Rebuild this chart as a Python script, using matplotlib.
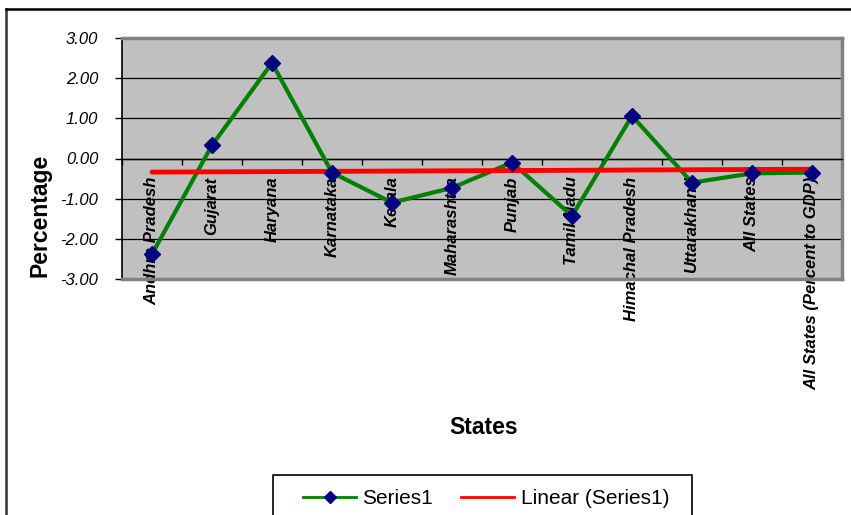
import numpy as np
import matplotlib.pyplot as plt
from matplotlib.lines import Line2D
from matplotlib.ticker import FixedLocator, NullFormatter

plt.rcParams['font.family'] = ['Liberation Sans', 'DejaVu Sans']

states = ["Andhra Pradesh", "Gujarat", "Haryana", "Karnataka", "Kerala",
          "Maharashtra", "Punjab", "Tamil Nadu", "Himachal Pradesh",
          "Uttarakhand", "All States", "All States (Percent to GDP)"]
values = [-2.38, 0.33, 2.38, -0.35, -1.10, -0.73, -0.10, -1.43, 1.06,
          -0.60, -0.37, -0.35]
yticks = [-3, -2, -1, 0, 1, 2, 3]

W, H = 851, 515
fig = plt.figure(figsize=(W / 100, H / 100), dpi=100)
ax = fig.add_axes([122 / W, 1 - 279 / H, 720 / W, 241 / H])
ax.set_facecolor('#C0C0C0')

x = np.arange(len(states))
# linear trend like excel's trendline
k, b = np.polyfit(x, values, 1)

ax.plot(x, values, color='#008000', lw=3, zorder=3)
ax.plot(x, k * x + b, color='#FF0000', lw=3.5, zorder=4, solid_capstyle='round')
ax.plot(x, values, ls='none', marker='D', ms=8.5, mfc='#000080', mec='#000080', zorder=5)

ax.set_xlim(-0.5, len(states) - 0.5)
ax.set_ylim(-3, 3)
ax.set_yticks(yticks)
ax.set_yticklabels(["%.2f" % v for v in yticks], fontsize=12, style='italic')
ax.yaxis.grid(True, color='black', lw=0.9)
ax.set_axisbelow(True)
ax.tick_params(axis='y', direction='out', length=5, width=1, pad=12)

ax.spines['bottom'].set_position(('data', 0))
ax.spines['bottom'].set_color('black')
ax.spines['bottom'].set_linewidth(1)
ax.set_xticks(x)
ax.set_xticklabels(states, rotation=90, fontsize=12, style='italic', weight='bold',
                   va='top', ha='center')
ax.tick_params(axis='x', which='major', length=0, pad=13)
ax.xaxis.set_minor_locator(FixedLocator(np.arange(-0.5, len(states), 1)))
ax.xaxis.set_minor_formatter(NullFormatter())
ax.tick_params(axis='x', which='minor', direction='out', length=4, width=1)
ax.spines['left'].set_color('black')
ax.spines['left'].set_linewidth(1.2)
for s in ['top', 'right']:
    ax.spines[s].set_color('#808080')
    ax.spines[s].set_linewidth(2.5)

# gray bottom edge of plot area
ax.axhline(-3, color='#808080', lw=2.5, zorder=6, clip_on=False)

fig.text(40 / W, 1 - 215 / H, "Percentage", rotation=90, fontsize=16.5,
         weight='bold', ha='center', va='center')
fig.text(484 / W, 1 - 427 / H, "States", fontsize=16.5, weight='bold',
         ha='center', va='center')

# outer chart border
fig.add_artist(Line2D([6 / W, 6 / W], [0, 1 - 9 / H], transform=fig.transFigure,
                      color='#333333', lw=1.8))
fig.add_artist(Line2D([6 / W, 1], [1 - 9 / H, 1 - 9 / H], transform=fig.transFigure,
                      color='black', lw=1.8))

# legend box (runs off the bottom of the image)
lx0, lx1, ly0 = 273 / W, 692 / W, 1 - 475 / H
fig.add_artist(Line2D([lx0, lx0, lx1, lx1], [0, ly0, ly0, 0],
                      transform=fig.transFigure, color='black', lw=1.2))

handles = [Line2D([], [], color='#008000', lw=2, marker='D', ms=6,
                  mfc='#000080', mec='#000080'),
           Line2D([], [], color='#FF0000', lw=2)]
leg = fig.legend(handles, ["Series1", "Linear (Series1)"], ncol=2,
                 loc='center left', bbox_to_anchor=(303 / W, 1 - 499 / H),
                 borderaxespad=0, borderpad=0, frameon=False, fontsize=15,
                 handlelength=2.55, columnspacing=1.35, handletextpad=0.3)

fig.savefig("out.png", dpi=100)
